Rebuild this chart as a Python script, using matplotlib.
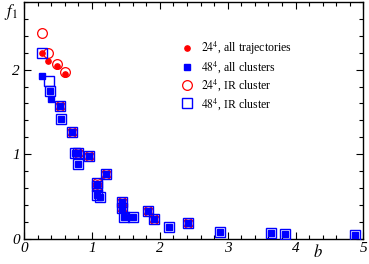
import matplotlib
matplotlib.use('Agg')
import matplotlib.pyplot as plt
from matplotlib.ticker import MultipleLocator

plt.rcParams['font.family'] = ['Liberation Serif', 'DejaVu Serif']
plt.rcParams['mathtext.fontset'] = 'stix'

# 24^4, all trajectories (red filled circles)
b_24_all = [0.26, 0.36, 0.48, 0.61, 0.53, 0.71, 0.80, 0.96, 1.07, 1.07, 1.21, 1.44, 1.44, 1.82, 1.92, 2.42]
f_24_all = [2.20, 2.10, 2.04, 1.95, 1.57, 1.26, 1.02, 0.98, 0.66, 0.62, 0.77, 0.44, 0.37, 0.33, 0.235, 0.185]

# 24^4, IR cluster (red open circles)
b_24_ir = [0.27, 0.36, 0.48, 0.61, 0.53, 0.71, 0.80, 0.96, 1.07, 1.07, 1.21, 1.44, 1.44, 1.82, 1.92, 2.42]
f_24_ir = [2.43, 2.20, 2.07, 1.97, 1.57, 1.26, 1.02, 0.98, 0.66, 0.62, 0.77, 0.44, 0.37, 0.33, 0.235, 0.185]

# 48^4, all clusters (blue filled squares)
b_48_all = [0.26, 0.39, 0.40, 0.53, 0.55, 0.71, 0.75, 0.80, 0.79, 0.96, 1.07, 1.07, 1.12, 1.21,
            1.44, 1.44, 1.48, 1.60, 1.82, 1.92, 2.14, 2.42, 2.88, 3.64, 3.85, 4.87]
f_48_all = [1.93, 1.75, 1.65, 1.57, 1.42, 1.26, 1.02, 1.02, 0.89, 0.98, 0.64, 0.52, 0.49, 0.77,
            0.44, 0.37, 0.255, 0.255, 0.33, 0.235, 0.145, 0.185, 0.086, 0.074, 0.055, 0.047]

# 48^4, IR cluster (blue open squares)
b_48_ir = [0.26, 0.37, 0.39, 0.53, 0.55, 0.71, 0.75, 0.80, 0.79, 0.96, 1.07, 1.07, 1.07, 1.12, 1.21,
           1.44, 1.44, 1.48, 1.60, 1.82, 1.92, 2.14, 2.42, 2.88, 3.64, 3.85, 4.87]
f_48_ir = [2.20, 1.87, 1.75, 1.57, 1.42, 1.26, 1.02, 1.02, 0.89, 0.98, 0.66, 0.62, 0.52, 0.49, 0.77,
           0.44, 0.37, 0.255, 0.255, 0.33, 0.235, 0.145, 0.185, 0.086, 0.074, 0.055, 0.047]

red = '#ff0000'
blue = '#0000ff'

fig = plt.figure(figsize=(3.69, 2.64), dpi=100)
ax = fig.add_axes([0.065, 0.095, 0.92, 0.898])

ax.plot(b_24_ir, f_24_ir, 'o', ms=7.0, mfc='none', mec=red, mew=0.9, label=r'$24^4$, IR cluster', zorder=3)
ax.plot(b_24_all, f_24_all, 'o', ms=3.8, color=red, mec=red, label=r'$24^4$, all trajectories', zorder=4)
ax.plot(b_48_ir, f_48_ir, 's', ms=6.8, mfc='none', mec=blue, mew=1.0, label=r'$48^4$, IR cluster', zorder=5)
ax.plot(b_48_all, f_48_all, 's', ms=3.9, color=blue, mec=blue, label=r'$48^4$, all clusters', zorder=6)

ax.set_xlim(0, 5)
ax.set_ylim(0, 2.8)
ax.xaxis.set_major_locator(MultipleLocator(1))
ax.xaxis.set_minor_locator(MultipleLocator(0.2))
ax.yaxis.set_major_locator(MultipleLocator(1))
ax.yaxis.set_minor_locator(MultipleLocator(0.2))
ax.tick_params(which='both', direction='in', top=True, right=True, labelsize=11, width=0.8)
ax.tick_params(which='major', length=5)
ax.tick_params(which='minor', length=3)
ax.tick_params(axis='x', pad=2)
ax.tick_params(axis='y', pad=3)
for lab in ax.get_xticklabels() + ax.get_yticklabels():
    lab.set_fontstyle('italic')
for s in ax.spines.values():
    s.set_linewidth(1.0)

handles, labels = ax.get_legend_handles_labels()
order = [1, 3, 0, 2]
ax.legend([handles[i] for i in order], [labels[i] for i in order],
          loc='upper left', bbox_to_anchor=(0.432, 0.885), frameon=False,
          fontsize=8.5, handlelength=1.0, handletextpad=0.7, labelspacing=0.2,
          borderpad=0.4)

fig.text(0.03, 0.955, r'$f_{\mathit{1}}$', fontsize=12, ha='center', va='center')
fig.text(0.862, 0.045, r'$b$', fontsize=12, ha='center', va='center')

plt.savefig('out.png', dpi=100)
